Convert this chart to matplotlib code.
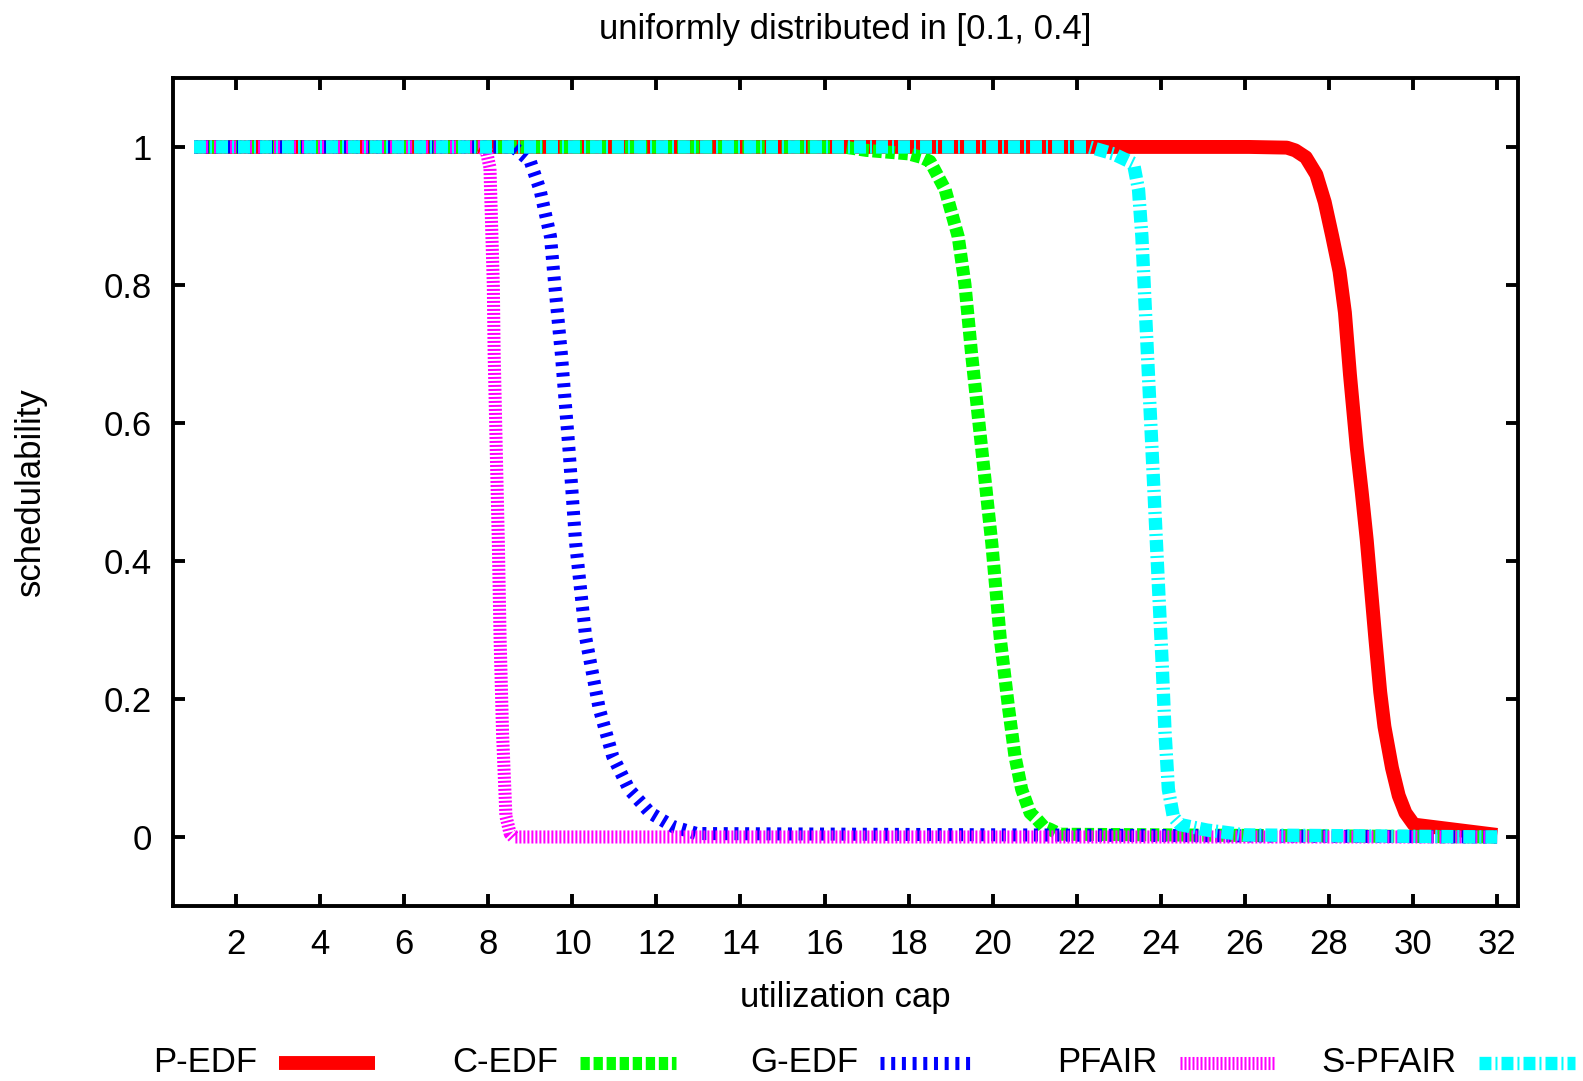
import matplotlib
matplotlib.use('Agg')
import matplotlib.pyplot as plt
from matplotlib.lines import Line2D

plt.rcParams['font.family'] = ['Liberation Sans', 'DejaVu Sans']
plt.rcParams['lines.scale_dashes'] = False

title = 'uniformly distributed in [0.1, 0.4]'
series_names = ['P-EDF', 'C-EDF', 'G-EDF', 'PFAIR', 'S-PFAIR']

# P-EDF
pedf_x = [1, 26.1, 27.0, 27.2, 27.45, 27.7, 27.9, 28.08, 28.25, 28.38, 28.5,
          28.66, 28.78, 28.9, 29.0, 29.1, 29.22, 29.32, 29.5, 29.66, 29.82,
          30.02, 32.0]
pedf_y = [1, 1, 0.999, 0.995, 0.985, 0.96, 0.92, 0.87, 0.82, 0.76, 0.67,
          0.565, 0.5, 0.43, 0.36, 0.29, 0.21, 0.16, 0.10, 0.06, 0.035,
          0.018, 0.003]

# C-EDF
cedf_x = [1, 16.45, 17.0, 18.0, 18.3, 18.51, 18.87, 19.18, 19.34, 19.5, 19.74,
          19.98, 20.18, 20.38, 20.53, 20.69, 20.89, 21.05, 21.21, 21.37, 21.6, 32]
cedf_y = [1, 1, 0.995, 0.99, 0.985, 0.979, 0.938, 0.87, 0.801, 0.699, 0.562,
          0.425, 0.288, 0.186, 0.117, 0.069, 0.035, 0.026, 0.015, 0.011, 0.004, 0]

# G-EDF
gedf_x = [1, 8.6, 9.0, 9.23, 9.48, 9.58, 9.74, 9.92, 10.08, 10.32, 10.64, 10.96,
          11.35, 11.85, 12.4, 12.96, 32]
gedf_y = [1, 1, 0.979, 0.938, 0.870, 0.801, 0.699, 0.562, 0.425, 0.288, 0.186,
          0.117, 0.069, 0.035, 0.015, 0.005, 0]

# PFAIR
pfair_x = [1, 7.8, 7.95, 8.04, 8.12, 8.14, 8.19, 8.24, 8.28, 8.34, 8.42, 8.52,
           8.6, 32]
pfair_y = [1, 1, 0.995, 0.97, 0.80, 0.70, 0.56, 0.425, 0.29, 0.15, 0.03, 0.005,
           0, 0]

# S-PFAIR
spfair_x = [1, 22.3, 22.87, 23.35, 23.47, 23.55, 23.63, 23.71, 23.79, 23.87,
            23.95, 24.03, 24.1, 24.18, 24.3, 24.46, 25.1, 25.5, 26.0, 32]
spfair_y = [1, 1, 0.99, 0.976, 0.938, 0.87, 0.767, 0.664, 0.562, 0.459,
            0.356, 0.254, 0.152, 0.069, 0.029, 0.018, 0.01, 0.007, 0.003, 0]

x_ticks = list(range(2, 33, 2))
y_ticks = [0, 0.2, 0.4, 0.6, 0.8, 1]
y_tick_labels = ['0', '0.2', '0.4', '0.6', '0.8', '1']

colors = ['#ff0000', '#00ff00', '#0000ff', '#ff00ff', '#00ffff']
widths = [10, 9.4, 9.4, 9.4, 9.6]
dashes = [None, (6.7, 2.7), (2.9, 4.8), (1.44, 1.44), (8.6, 2.9, 1.44, 2.9)]
FS = 25


def style_line(line, i):
    line.set_color(colors[i])
    line.set_linewidth(widths[i])
    line.set_solid_capstyle('butt')
    line.set_dash_capstyle('butt')
    if dashes[i] is not None:
        line.set_dashes(dashes[i])


def main():
    fig = plt.figure(figsize=(15.83, 10.81), dpi=100)
    ax = fig.add_axes([0.1093, 0.1619, 0.8497, 0.766])

    data = [(pedf_x, pedf_y), (cedf_x, cedf_y), (gedf_x, gedf_y),
            (pfair_x, pfair_y), (spfair_x, spfair_y)]
    for i, (xs, ys) in enumerate(data):
        line, = ax.plot(xs, ys)
        style_line(line, i)

    ax.set_xlim(0.5, 32.5)
    ax.set_ylim(-0.1, 1.1)
    ax.set_xticks(x_ticks)
    ax.set_xticklabels([str(t) for t in x_ticks])
    ax.set_yticks(y_ticks)
    ax.set_yticklabels(y_tick_labels)
    ax.tick_params(direction='in', length=8.5, width=2.8, labelsize=FS,
                   top=True, right=True)
    ax.tick_params(axis='x', pad=16)
    ax.tick_params(axis='y', pad=15)
    for sp in ax.spines.values():
        sp.set_linewidth(2.8)

    ax.set_xlabel('utilization cap', fontsize=FS)
    ax.set_ylabel('schedulability', fontsize=FS)
    ax.xaxis.set_label_coords(0.5, -0.1105)
    ax.xaxis.label.set_va('center')
    ax.yaxis.set_label_coords(-0.106, 0.5)
    ax.yaxis.label.set_va('center')
    ax.text(0.5, 1.058, title, transform=ax.transAxes, ha='center',
            va='center', fontsize=FS)

    # legend below the plot, gnuplot style: label then sample
    text_right = [257.4, 558.3, 858.1, 1158.0, 1456.8]
    y_leg = 1 - 1063 / 1081
    for i, name in enumerate(series_names):
        xr = text_right[i] / 1583
        fig.text(xr, y_leg, name, ha='right', va='center', fontsize=FS)
        x0 = (text_right[i] + 22) / 1583
        x1 = (text_right[i] + 118) / 1583
        sample = Line2D([x0, x1], [y_leg, y_leg], transform=fig.transFigure)
        style_line(sample, i)
        fig.add_artist(sample)

    fig.savefig('out.png', dpi=100)


if __name__ == '__main__':
    main()
